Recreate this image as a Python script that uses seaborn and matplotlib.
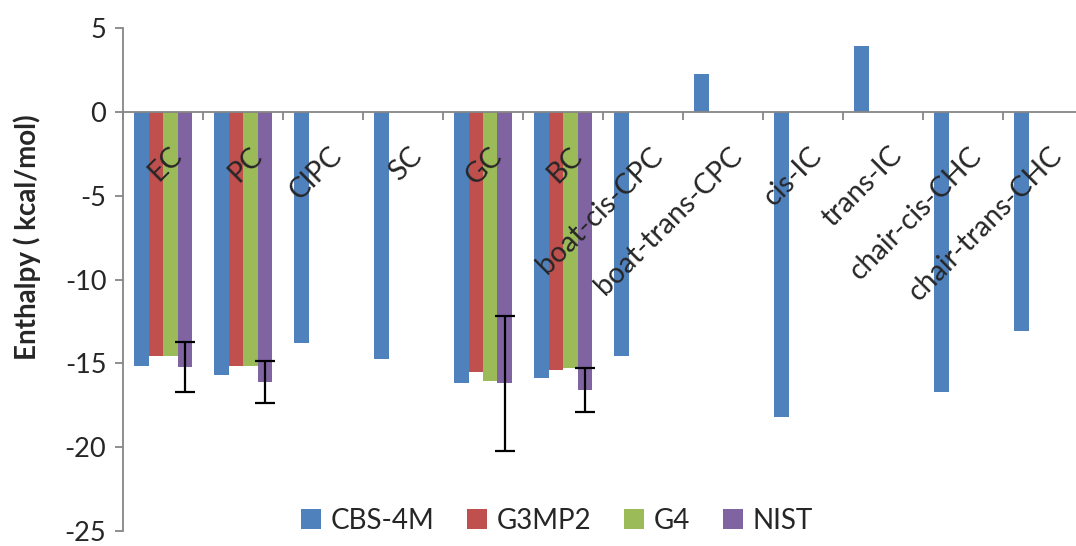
import numpy as np
import pandas as pd
import matplotlib
matplotlib.use('Agg')
import matplotlib.pyplot as plt
import matplotlib.transforms as mtransforms
import seaborn as sns

# Valores
categories = ['EC', 'PC', 'ClPC', 'SC', 'GC', 'BC', 'boat-cis-CPC', 'boat-trans-CPC',
              'cis-IC', 'trans-IC', 'chair-cis-CHC', 'chair-trans-CHC']
methods = ['CBS-4M', 'G3MP2', 'G4', 'NIST']
nan = np.nan
cbs4m = [-15.15, -15.7, -13.8, -14.75, -16.2, -15.9, -14.55, 2.25, -18.2, 3.9, -16.7, -13.1]
g3mp2 = [-14.55, -15.15, nan, nan, -15.5, -15.4, nan, nan, nan, nan, nan, nan]
g4 = [-14.55, -15.15, nan, nan, -16.05, -15.3, nan, nan, nan, nan, nan, nan]
nist = [-15.2, -16.1, nan, nan, -16.2, -16.6, nan, nan, nan, nan, nan, nan]
nist_err = [1.5, 1.25, nan, nan, 4.0, 1.3, nan, nan, nan, nan, nan, nan]
colors = ['#4F81BD', '#C0504D', '#9BBB59', '#8064A2']

df = pd.DataFrame({'structure': categories, 'CBS-4M': cbs4m, 'G3MP2': g3mp2, 'G4': g4, 'NIST': nist})
long_df = df.melt(id_vars='structure', var_name='method', value_name='enthalpy').dropna()

sns.set_style('white')
plt.rcParams['font.family'] = ['Lato', 'DejaVu Sans']
plt.rcParams['axes.unicode_minus'] = False

fig = plt.figure(figsize=(10.76, 5.46), dpi=100)
ax = fig.add_axes([123 / 1076, 15 / 546, 960 / 1076, 503 / 546])

sns.barplot(data=long_df, x='structure', y='enthalpy', hue='method', order=categories,
            hue_order=methods, palette=colors, width=0.725, saturation=1,
            errorbar=None, linewidth=0, ax=ax)

# barras de error solo para NIST
nist_bars = ax.containers[3]
xs = [b.get_x() + b.get_width() / 2 for b in nist_bars]
vals = [v for v in nist if not np.isnan(v)]
errs = [e for e in nist_err if not np.isnan(e)]
ax.errorbar(xs, vals, yerr=errs, fmt='none', ecolor='black', elinewidth=1.6,
            capsize=7, capthick=1.6, zorder=3)

ax.set_ylim(-25, 5)
ax.set_yticks(range(-25, 6, 5))
ax.set_xlim(-0.5, len(categories) - 0.5)

for s in ['top', 'right']:
    ax.spines[s].set_visible(False)
ax.spines['bottom'].set_position(('data', 0))
ax.spines['bottom'].set_color('#868686')
ax.spines['left'].set_color('#868686')
ax.spines['bottom'].set_linewidth(1.3)
ax.spines['left'].set_linewidth(1.3)
ax.set_axisbelow(False)
ax.xaxis.set_zorder(5)

ax.tick_params(axis='y', length=6, width=1.3, color='#868686', labelsize=19.5, pad=6, left=True)
ax.set_xticks(np.arange(-0.5, len(categories), 1), minor=True)
ax.tick_params(axis='x', which='minor', length=6, width=1.3, color='#868686', bottom=True)
ax.tick_params(axis='x', which='major', length=0, pad=22, labelsize=20.5)
ax.set_xticks(range(len(categories)))
ax.set_xticklabels(categories, rotation=45, ha='right', rotation_mode='anchor')
offset = mtransforms.ScaledTranslation(6 / 100, 0, fig.dpi_scale_trans)
for lbl in ax.get_xticklabels():
    lbl.set_transform(lbl.get_transform() + offset)

ax.set_xlabel('')
ax.set_ylabel('Enthalpy ( kcal/mol)', fontsize=20, fontweight='bold')
ax.yaxis.set_label_coords(-0.085, 0.585)

ax.legend(loc='lower center', bbox_to_anchor=(0.452, -0.055), ncol=4, frameon=False,
          fontsize=20, handlelength=0.7, handleheight=0.7, handletextpad=0.35,
          columnspacing=1.2)

fig.savefig('out.png', dpi=100)
